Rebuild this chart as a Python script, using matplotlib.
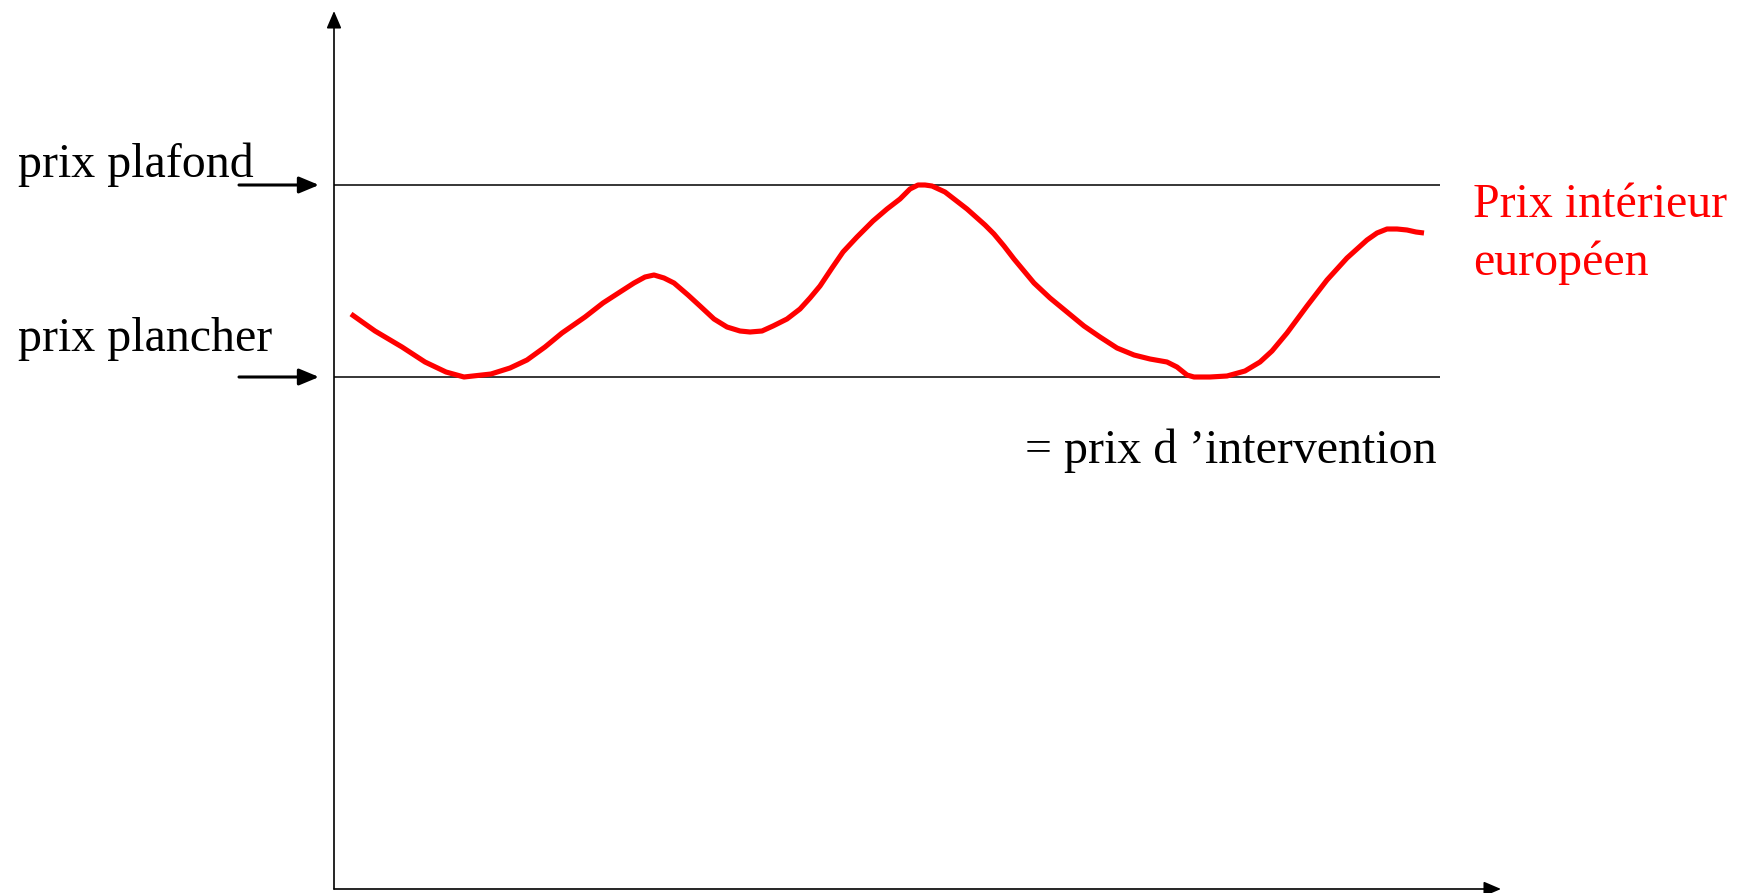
import numpy as np
import matplotlib

matplotlib.use("Agg")
import matplotlib.pyplot as plt

plt.rcParams["font.family"] = ["Liberation Serif", "DejaVu Serif"]

# temps / prix en unites arbitraires
temps = [17, 41, 68, 91, 112, 130, 157, 176, 193, 211, 228, 251, 269, 286, 300, 311, 320, 330, 340, 354,
         366, 380, 393, 406, 416, 428, 439, 453, 466, 476, 486, 498, 509, 523, 539, 553, 566, 576, 584, 591,
         598, 611, 633, 651, 660, 670, 680, 700, 716, 733, 750, 766, 783, 800, 816, 833, 843, 853, 860, 876,
         893, 911, 926, 938, 953, 973, 993, 1013, 1033, 1043, 1053, 1063, 1073, 1082, 1090]
prix = [575, 558, 542, 527, 517, 512, 515, 521, 529, 542, 556, 572, 586, 597, 606, 612, 614, 611, 606, 594,
        583, 570, 562, 558, 557, 558, 563, 570, 580, 591, 603, 621, 637, 652, 668, 680, 690, 700, 704, 704,
        703, 697, 680, 664, 655, 643, 630, 606, 591, 577, 563, 552, 541, 534, 530, 527, 522, 514, 512, 512,
        513, 518, 527, 538, 556, 583, 609, 631, 649, 656, 660, 660, 659, 657, 656]
prix_plafond = 704
prix_plancher = 512
t_max = 1167
p_max = 878
t_fin_lignes = 1106

W, H = 1746, 893
fig = plt.figure(figsize=(W / 100, H / 100), dpi=100)
ax = fig.add_axes([334 / W, 4 / H, 1167 / W, 878 / H])
ax.set_xlim(0, t_max)
ax.set_ylim(0, p_max)
ax.axis("off")

# axes avec fleches
axe_style = dict(arrowstyle="-|>,head_length=0.7,head_width=0.3", mutation_scale=15, lw=1.2, color="black",
                 shrinkA=0, shrinkB=0)
ax.annotate("", xy=(0, p_max), xytext=(0, 0), arrowprops=axe_style, annotation_clip=False)
ax.annotate("", xy=(t_max, 0), xytext=(0, 0), arrowprops=axe_style, annotation_clip=False)

ax.hlines([prix_plafond, prix_plancher], 0, t_fin_lignes, color="black", lw=1.1)

fleche = dict(arrowstyle="-|>,head_length=0.6,head_width=0.25", mutation_scale=20, lw=2.2, color="black",
              shrinkA=0, shrinkB=0)
for p in [prix_plafond, prix_plancher]:
    ax.annotate("", xy=(-15, p), xytext=(-95, p), arrowprops=fleche, annotation_clip=False)

ax.plot(temps, prix, color="red", lw=3.7, solid_joinstyle="round", solid_capstyle="butt", clip_on=False)

fs = 34.5
fig.text(18 / W, 1 - 177 / H, "prix plafond", fontsize=fs, va="baseline")
fig.text(18 / W, 1 - 351 / H, "prix plancher", fontsize=fs, va="baseline")
fig.text(1437 / W, 1 - 463 / H, "= prix d \u2019intervention", fontsize=fs, va="baseline", ha="right")
fig.text(1473 / W, 1 - 217 / H, "Prix intérieur", fontsize=fs, va="baseline", color="red")
fig.text(1473 / W, 1 - 275 / H, "européen", fontsize=fs, va="baseline", color="red")

fig.savefig("out.png", dpi=100)
